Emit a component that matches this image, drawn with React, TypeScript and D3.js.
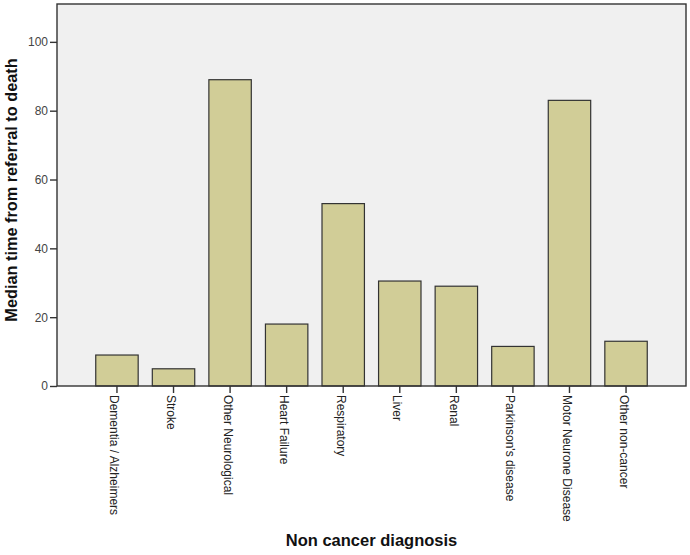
import React, { useRef, useEffect } from 'react';
import * as d3 from 'd3';

const categories = [
  'Dementia / Alzheimers',
  'Stroke',
  'Other Neurological',
  'Heart Failure',
  'Respiratory',
  'Liver',
  'Renal',
  "Parkinson's disease",
  'Motor Neurone Disease',
  'Other non-cancer',
];
const medianDays = [9, 5, 89, 18, 53, 30.5, 29, 11.5, 83, 13];
const yTicks = [0, 20, 40, 60, 80, 100];

const W = 690;
const H = 555;
const margin = { top: 4, right: 4, bottom: 169, left: 57 };

const App: React.FC = () => {
  const svgRef = useRef<SVGSVGElement | null>(null);

  useEffect(() => {
    if (!svgRef.current) return;
    const svg = d3.select(svgRef.current);
    svg.selectAll('*').remove();

    const x0 = margin.left;
    const x1 = W - margin.right;
    const y0 = H - margin.bottom;
    const y1 = margin.top;

    const x = d3
      .scaleBand<string>()
      .domain(categories)
      .range([x0, x1])
      .paddingInner(0.25)
      .paddingOuter(0.685);

    const y = d3.scaleLinear().domain([0, 111]).range([y0, y1]);

    // plot background
    svg
      .append('rect')
      .attr('x', x0)
      .attr('y', y1)
      .attr('width', x1 - x0)
      .attr('height', y0 - y1)
      .attr('fill', '#f0f0f0');

    // bars
    svg
      .append('g')
      .selectAll('rect')
      .data(medianDays)
      .join('rect')
      .attr('x', (_, i) => x(categories[i]) as number)
      .attr('y', (d) => y(d))
      .attr('width', x.bandwidth())
      .attr('height', (d) => y0 - y(d))
      .attr('fill', '#d1cd97')
      .attr('stroke', '#333')
      .attr('stroke-width', 1.2);

    // frame
    svg
      .append('rect')
      .attr('x', x0)
      .attr('y', y1)
      .attr('width', x1 - x0)
      .attr('height', y0 - y1)
      .attr('fill', 'none')
      .attr('stroke', '#333')
      .attr('stroke-width', 1.4);

    // y axis
    const yAxis = d3
      .axisLeft(y)
      .tickValues(yTicks)
      .tickSize(7)
      .tickPadding(2)
      .tickFormat(d3.format('d'));
    const gy = svg.append('g').attr('transform', `translate(${x0},0)`).call(yAxis);
    gy.select('.domain').remove();
    gy.selectAll('line').attr('stroke', '#333').attr('stroke-width', 1.4);
    gy.selectAll('text')
      .attr('fill', '#444')
      .style('font-family', 'Arial, "Liberation Sans", sans-serif')
      .style('font-size', '12px');

    // x axis
    const xAxis = d3.axisBottom(x).tickSize(7).tickSizeOuter(0);
    const gx = svg.append('g').attr('transform', `translate(0,${y0})`).call(xAxis);
    gx.select('.domain').remove();
    gx.selectAll('line').attr('stroke', '#333').attr('stroke-width', 1.4);
    gx.selectAll('text')
      .attr('fill', '#222')
      .attr('y', 0)
      .attr('dy', 0)
      .attr('text-anchor', 'start')
      .attr('transform', 'translate(-6.5,9) rotate(90)')
      .style('font-family', 'Arial, "Liberation Sans", sans-serif')
      .style('font-size', '12px');

    // axis titles
    svg
      .append('text')
      .attr('x', (x0 + x1) / 2)
      .attr('y', 546)
      .attr('text-anchor', 'middle')
      .style('font-family', 'Arial, "Liberation Sans", sans-serif')
      .style('font-weight', 'bold')
      .style('font-size', '16.5px')
      .attr('fill', '#111')
      .text('Non cancer diagnosis');

    svg
      .append('text')
      .attr('transform', `translate(17,190) rotate(-90)`)
      .attr('text-anchor', 'middle')
      .style('font-family', 'Arial, "Liberation Sans", sans-serif')
      .style('font-weight', 'bold')
      .style('font-size', '16.3px')
      .attr('fill', '#111')
      .text('Median time from referral to death');
  }, []);

  return (
    <div style={{ position: 'absolute', left: 0, top: 0, background: '#fff' }}>
      <svg ref={svgRef} width={W} height={H}></svg>
    </div>
  );
};

export default App;
